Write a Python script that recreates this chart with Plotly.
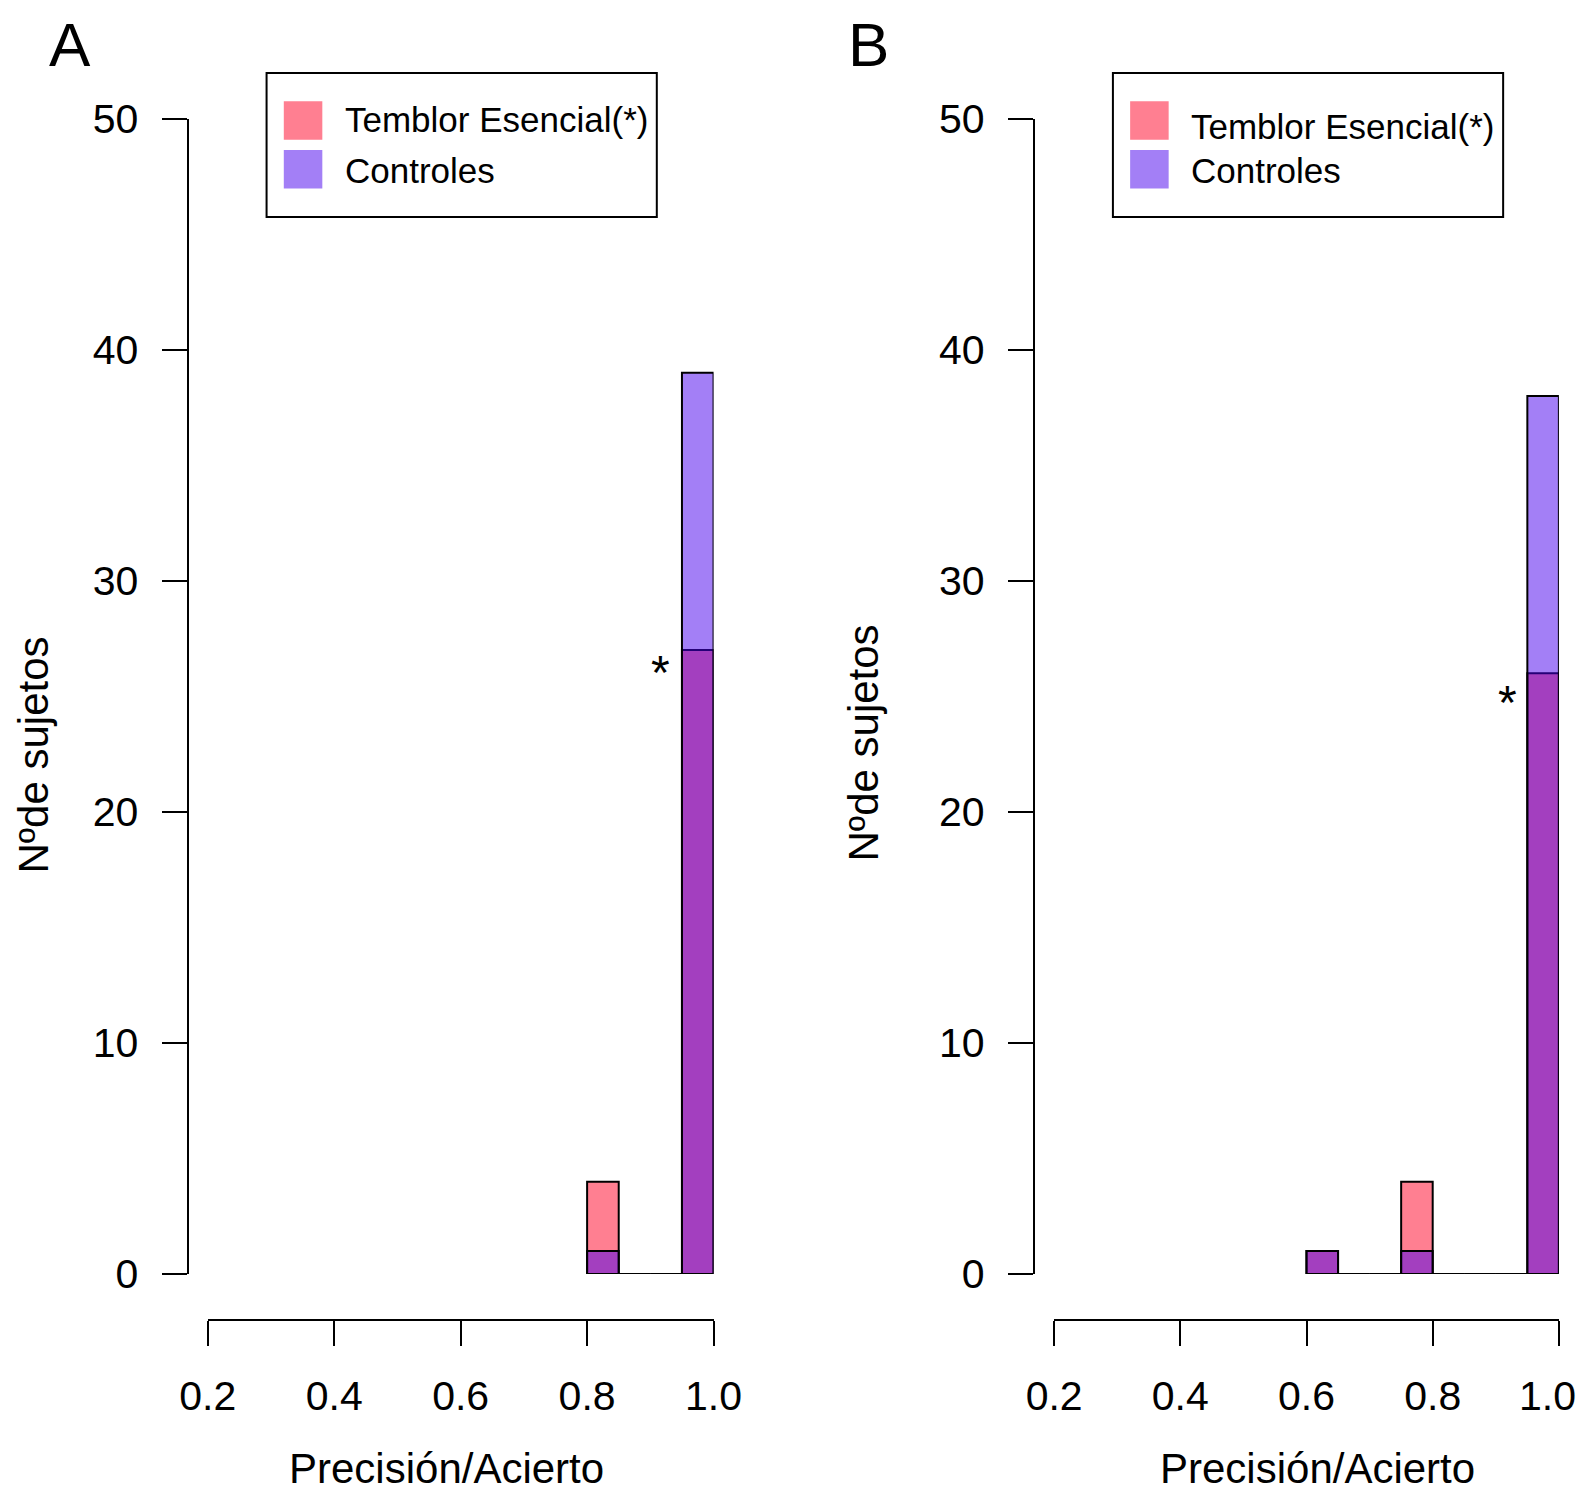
import plotly.graph_objects as go

# histogram bins (centres, width 0.05) and counts
centros_a = [0.825, 0.875, 0.925, 0.975]
temblor_a = [4, 0, 0, 27]
control_a = [1, 0, 0, 39]

centros_b = [0.625, 0.675, 0.725, 0.775, 0.825, 0.875, 0.925, 0.975]
temblor_b = [1, 0, 0, 4, 0, 0, 0, 26]
control_b = [1, 0, 0, 1, 0, 0, 0, 38]

ancho_bin = 0.05
x_ticks = [0.2, 0.4, 0.6, 0.8, 1.0]
x_ticklabels = ["0.2", "0.4", "0.6", "0.8", "1.0"]
y_ticks = [0, 10, 20, 30, 40, 50]
nombres = ["Temblor Esencial(*)", "Controles"]

OFF = 8                       # page margin around the plot div
W, H = 1589 - OFF, 1502 - 2 * OFF
S = 0.9866                    # positions below were measured on a scaled copy
ROJO = "rgba(255,0,36,0.5)"
AZUL = "rgba(72,0,238,0.5)"
FUENTE = "Liberation Sans, Arial, sans-serif"


def px(x):
    return (x / S - OFF) / W


def py(y):
    return 1 - (y / S - OFF) / H


fig = go.Figure()

paneles = [
    (centros_a, temblor_a, control_a, "x", "y"),
    (centros_b, temblor_b, control_b, "x2", "y2"),
]
for centros, et, ct, xa, ya in paneles:
    for vals, col, nom in [(et, ROJO, nombres[0]), (ct, AZUL, nombres[1])]:
        fig.add_trace(go.Bar(
            x=centros, y=vals, width=ancho_bin, xaxis=xa, yaxis=ya,
            marker=dict(color=col, line=dict(color="black", width=2)),
            name=nom, showlegend=False, cliponaxis=False,
        ))

eje_x = dict(range=[0.2, 1.0], tickvals=x_ticks, ticktext=x_ticklabels,
             anchor="free", position=py(1302), showline=True, linecolor="black",
             linewidth=2, ticks="outside", ticklen=25, tickwidth=2, tickcolor="black",
             showgrid=False, zeroline=False, ticklabelstandoff=15, automargin=False,
             ticklabeloverflow="allow",
             tickfont=dict(family=FUENTE, size=41, color="black"))
eje_y = dict(range=[0, 50], tickvals=y_ticks, anchor="free", showline=True,
             linecolor="black", linewidth=2, ticks="outside", ticklen=25,
             tickwidth=2, tickcolor="black", showgrid=False, zeroline=False,
             domain=[py(1257), py(117)], ticklabelstandoff=15, automargin=False,
             tickfont=dict(family=FUENTE, size=41, color="black"))

# last label of panel B sits at the page edge: pad it so it is not clipped
etiquetas_b = x_ticklabels[:-1] + [x_ticklabels[-1] + "\u00a0\u00a0"]

fig.update_layout(
    width=W, height=H, margin=dict(l=0, r=0, t=0, b=0, autoexpand=False),
    paper_bgcolor="white", plot_bgcolor="white", barmode="overlay",
    xaxis=dict(eje_x, domain=[px(205), px(704)]),
    yaxis=dict(eje_y, position=px(185)),
    xaxis2=dict(eje_x, domain=[px(1040), px(1538)], ticktext=etiquetas_b),
    yaxis2=dict(eje_y, position=px(1020)),
    font=dict(family=FUENTE, color="black"),
)

anots = []
formas = []


def texto(t, x, y, size, **kw):
    d = dict(text=t, x=px(x), y=py(y), xref="paper", yref="paper", showarrow=False,
             xanchor="center", yanchor="middle", font=dict(size=size))
    d.update(kw)
    anots.append(d)


# panel letters, asterisks and axis titles
for letra, lx, ast_x, ast_y, tx, yt_x, yt_y in [
    ("A", 69, 652, 663, 441, 22, 745),
    ("B", 857, 1487, 693, 1300, 852, 733),
]:
    texto(letra, lx, 0, 62, yanchor="top")
    anots[-1]["y"] = 1
    texto("*", ast_x, ast_y, 48)
    texto("Precisión/Acierto", tx, 0, 42, yanchor="bottom")
    anots[-1]["y"] = 0
    texto("Nºde sujetos", yt_x, yt_y, 42, textangle=-90)
    if letra == "A":
        anots[-1].update(x=0, xanchor="left")

# legend boxes drawn by hand (R-style filled squares)
for bx, t1y in [(263, 118), (1098, 125)]:
    formas.append(dict(type="rect", xref="paper", yref="paper",
                       x0=px(bx), x1=px(bx + 385), y0=py(214), y1=py(72),
                       line=dict(color="black", width=2), fillcolor="rgba(0,0,0,0)"))
    for col, sy0, sy1 in [(ROJO, 100, 138), (AZUL, 148, 186)]:
        formas.append(dict(type="rect", xref="paper", yref="paper",
                           x0=px(bx + 17), x1=px(bx + 55), y0=py(sy1), y1=py(sy0),
                           line=dict(width=0), fillcolor=col))
    for nom, ty in [(nombres[0], t1y), (nombres[1], 168)]:
        texto(nom, bx + 75, ty, 35, xanchor="left")

fig.update_layout(annotations=anots, shapes=formas)
fig.write_html("out.html")
